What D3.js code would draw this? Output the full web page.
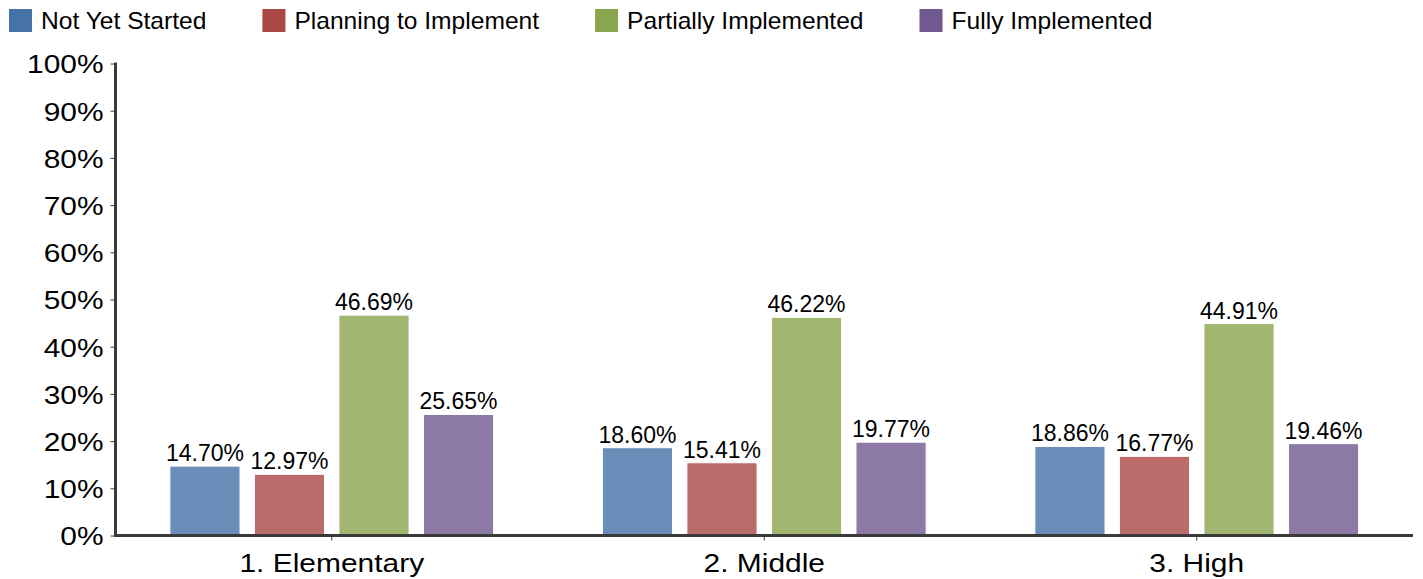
<!DOCTYPE html>
<html>
<head>
<meta charset="utf-8">
<script src="https://cdn.jsdelivr.net/npm/d3@7/dist/d3.min.js"></script>
<style>
  html, body { margin: 0; padding: 0; background: #fff; }
  svg { display: block; font-family: 'Liberation Sans', Arial, sans-serif; }
</style>
</head>
<body>
<div id="chart"></div>
<script>
// datos del gráfico
const categories = ['1. Elementary', '2. Middle', '3. High'];
const seriesNames = ['Not Yet Started', 'Planning to Implement', 'Partially Implemented', 'Fully Implemented'];
const notYetStarted = [14.70, 18.60, 18.86];
const planning = [12.97, 15.41, 16.77];
const partially = [46.69, 46.22, 44.91];
const fully = [25.65, 19.77, 19.46];
const yTicks = [0, 10, 20, 30, 40, 50, 60, 70, 80, 90, 100];

const seriesValues = [notYetStarted, planning, partially, fully];
const colors = ['#4572A7', '#AA4643', '#89A54E', '#71588F'];

const width = 1423, height = 579;
const plot = { left: 115.5, right: 1413, top: 63.5, bottom: 535.5 };

const svg = d3.select('#chart').append('svg')
    .attr('width', width)
    .attr('height', height);

const x0 = d3.scaleBand()
    .domain(categories)
    .range([plot.left, plot.right]);

const step = x0.bandwidth();
const groupPad = step * 0.1257;
const x1 = d3.scaleBand()
    .domain(seriesNames)
    .range([groupPad, step - groupPad])
    .paddingInner(0.17)
    .paddingOuter(0);

const y = d3.scaleLinear()
    .domain([0, 100])
    .range([plot.bottom, plot.top]);

// barras
const rows = categories.map((c, i) => ({
    cat: c,
    vals: seriesNames.map((s, j) => ({ s, j, v: seriesValues[j][i] }))
}));

const groups = svg.append('g').selectAll('g')
    .data(rows)
    .join('g')
    .attr('transform', d => `translate(${x0(d.cat)},0)`);

groups.selectAll('rect')
    .data(d => d.vals)
    .join('rect')
    .attr('x', d => x1(d.s))
    .attr('y', d => y(d.v))
    .attr('width', x1.bandwidth())
    .attr('height', d => y(0) - y(d.v))
    .attr('fill', d => colors[d.j])
    .attr('fill-opacity', 0.8)
    .attr('stroke', '#fff')
    .attr('stroke-width', 1);

groups.selectAll('text')
    .data(d => d.vals)
    .join('text')
    .attr('x', d => x1(d.s) + x1.bandwidth() / 2)
    .attr('y', d => y(d.v) - 5)
    .attr('text-anchor', 'middle')
    .attr('font-size', '23px')
    .attr('fill', '#000')
    .text(d => d.v.toFixed(2) + '%');

// eje Y
const yAxis = svg.append('g')
    .attr('transform', `translate(${plot.left},0)`)
    .call(d3.axisLeft(y).tickValues(yTicks).tickSize(5).tickPadding(7).tickFormat(d => d + '%'));
yAxis.select('.domain').attr('stroke', '#3a3a3a').attr('stroke-width', 3)
    .attr('d', `M0,${plot.top - 1}V${plot.bottom + 1.5}`);
yAxis.selectAll('.tick line').attr('stroke', '#3a3a3a').attr('stroke-width', 1);
yAxis.selectAll('.tick text')
    .attr('font-size', '26px')
    .attr('font-family', "'Liberation Sans', Arial, sans-serif")
    .attr('fill', '#000')
    .attr('dy', '0.36em')
    .attr('transform', function() {
        const tx = +d3.select(this).attr('x');
        return `translate(${tx},0) scale(1.15,1)`;
    })
    .attr('x', 0);

// eje X
const xAxis = svg.append('g')
    .attr('transform', `translate(0,${plot.bottom})`)
    .call(d3.axisBottom(x0).tickSize(5).tickPadding(10));
xAxis.select('.domain').attr('stroke', '#3a3a3a').attr('stroke-width', 3)
    .attr('d', `M${plot.left - 1.5},0H${plot.right}`);
xAxis.selectAll('.tick line').attr('stroke', '#3a3a3a').attr('stroke-width', 1);
xAxis.selectAll('.tick text')
    .attr('font-size', '26.5px')
    .attr('font-family', "'Liberation Sans', Arial, sans-serif")
    .attr('fill', '#000')
    .attr('dy', 0)
    .attr('y', 0)
    .attr('transform', 'translate(0,36.5) scale(1.13,1)');

// leyenda: cuadro + texto, separados por un hueco fijo
const legendScale = 1.07;
const legend = svg.append('g').selectAll('g')
    .data(seriesNames)
    .join('g');

legend.append('rect')
    .attr('width', 23)
    .attr('height', 23)
    .attr('fill', (d, i) => colors[i]);

legend.append('text')
    .attr('transform', `translate(32,19.5) scale(${legendScale},1)`)
    .attr('font-size', '23px')
    .attr('fill', '#000')
    .text(d => d);

let lx = 9;
legend.each(function() {
    const g = d3.select(this);
    g.attr('transform', `translate(${lx},9)`);
    const w = g.select('text').node().getComputedTextLength() * legendScale;
    lx += 32 + w + 56;
});
</script>
</body>
</html>
